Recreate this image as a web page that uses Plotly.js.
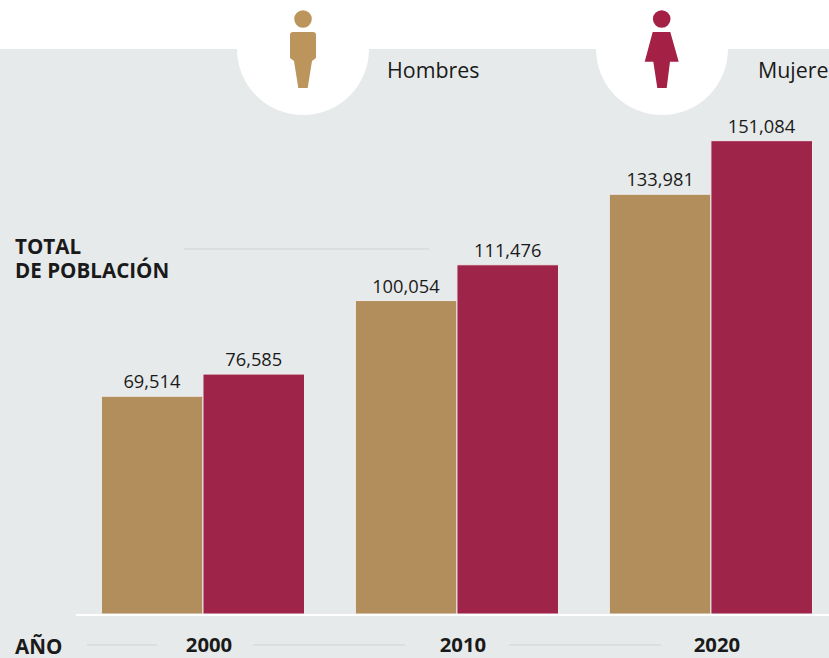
<!DOCTYPE html>
<html>
<head>
<meta charset="utf-8">
<script src="https://cdn.plot.ly/plotly-3.0.1.min.js"></script>
<style>html,body{margin:0;padding:0;background:#fff;overflow:hidden}#c{width:829px;height:658px}</style>
</head>
<body>
<div id="c"></div>
<script>
const years = ['2000', '2010', '2020'];
const hombres = [69514, 100054, 133981];
const mujeres = [76585, 111476, 151084];
const hombresLabel = 'Hombres';
const mujeresLabel = 'Mujeres';
const yearTitle = 'AÑO';
const totalLine1 = 'TOTAL';
const totalLine2 = 'DE POBLACIÓN';

const W = 829, H = 658, L = 76, T = 49, B = 44;
const px = x => (x - L) / (W - L);
const py = y => (H - B - y) / (H - B - T);
const INK = '#1a1a1a', FONT = '"Open Sans", sans-serif';
const GRAY = '#e7eaeb', RULE = '#cfd3d4';

function poly(d, fill) {
  return {type: 'path', xref: 'paper', yref: 'paper', layer: 'above', fillcolor: fill, line: {width: 0},
    path: d.map(s => typeof s === 'string' ? s : px(s[0]).toFixed(5) + ',' + py(s[1]).toFixed(5))
           .join(' ').replace(/([MLQ]) /g, '$1') };
}
function disc(cx, cy, r, fill, layer) {
  return {type: 'circle', xref: 'paper', yref: 'paper', layer: layer || 'above', fillcolor: fill, line: {width: 0},
    x0: px(cx - r), x1: px(cx + r), y0: py(cy + r), y1: py(cy - r)};
}
function rule(x0, x1, y) {
  return {type: 'line', xref: 'paper', yref: 'paper', layer: 'below', line: {color: RULE, width: 1},
    x0: px(x0), x1: px(x1), y0: py(y), y1: py(y)};
}
function label(text, x, y, size, bold, xanchor) {
  return {xref: 'paper', yref: 'paper', x: px(x), y: py(y), text: bold ? '<b>' + text + '</b>' : text,
    showarrow: false, xanchor: xanchor || 'left', yanchor: 'middle', align: 'left',
    font: {family: FONT, size: size, color: INK}, borderpad: 0};
}

const TAN_ICON = '#bc955c', RED_ICON = '#a42145';
const shapes = [
  {type: 'rect', xref: 'paper', yref: 'paper', layer: 'below', fillcolor: GRAY, line: {width: 0},
    x0: px(0), x1: px(W), y0: py(H), y1: py(T)},
  disc(303, 49, 66, '#ffffff', 'below'),
  disc(662, 49, 66, '#ffffff', 'below'),
  rule(184, 429, 249),
  rule(87, 157, 645), rule(253, 405, 645), rule(509, 661, 645),
  disc(303, 19, 8.8, TAN_ICON),
  poly(['M', [293, 32], 'L', [313, 32], 'Q', [316, 32], [316, 35], 'L', [316, 58], 'L', [312, 61],
        'L', [307.7, 88], 'L', [298.3, 88], 'L', [294, 61], 'L', [290, 58], 'L', [290, 35],
        'Q', [290, 32], [293, 32], 'Z'], TAN_ICON),
  disc(661.7, 19, 8.8, RED_ICON),
  poly(['M', [652.7, 32], 'L', [670.3, 32], 'L', [678.7, 61.7], 'L', [670, 61.7], 'L', [666.7, 88],
        'L', [657.3, 88], 'L', [653.3, 61.7], 'L', [644.7, 61.7], 'Z'], RED_ICON)
];

const annotations = [
  label(hombresLabel, 386, 69, 21.4),
  label(mujeresLabel, 757, 69, 21.4),
  label(totalLine1, 14, 245.5, 20.6, true),
  label(totalLine2, 14, 269.5, 20.6, true),
  label(yearTitle, 14, 645.5, 20.6, true)
];

const commonBar = {type: 'bar', textposition: 'outside', cliponaxis: false, texttemplate: '%{y:,d}',
  textfont: {family: FONT, size: 18.3, color: INK}, hoverinfo: 'none'};

const data = [
  Object.assign({}, commonBar, {name: hombresLabel, x: years, y: hombres,
    marker: {color: '#b38e5d', line: {color: '#eeeeee', width: 1}}}),
  Object.assign({}, commonBar, {name: mujeresLabel, x: years, y: mujeres,
    marker: {color: '#9e2449', line: {color: '#eeeeee', width: 1}}})
];

const layout = {
  width: W, height: H, autosize: false, showlegend: false,
  margin: {l: L, r: 0, t: T, b: B, pad: 0},
  paper_bgcolor: '#ffffff', plot_bgcolor: 'rgba(0,0,0,0)',
  barmode: 'group', bargap: 0.2, bargroupgap: 0,
  xaxis: {type: 'category', range: [-0.5, 2.465], showline: true, linecolor: '#ffffff', linewidth: 2,
    ticks: '', ticklabelstandoff: 12, ticklabelshift: 6, showgrid: false, zeroline: false,
    tickfont: {family: FONT, size: 20.3, color: INK, weight: 700}},
  yaxis: {range: [0, 180350], visible: false, showgrid: false, zeroline: false},
  shapes: shapes,
  annotations: annotations
};

Plotly.newPlot('c', data, layout, {displayModeBar: false, staticPlot: true});
</script>
</body>
</html>
